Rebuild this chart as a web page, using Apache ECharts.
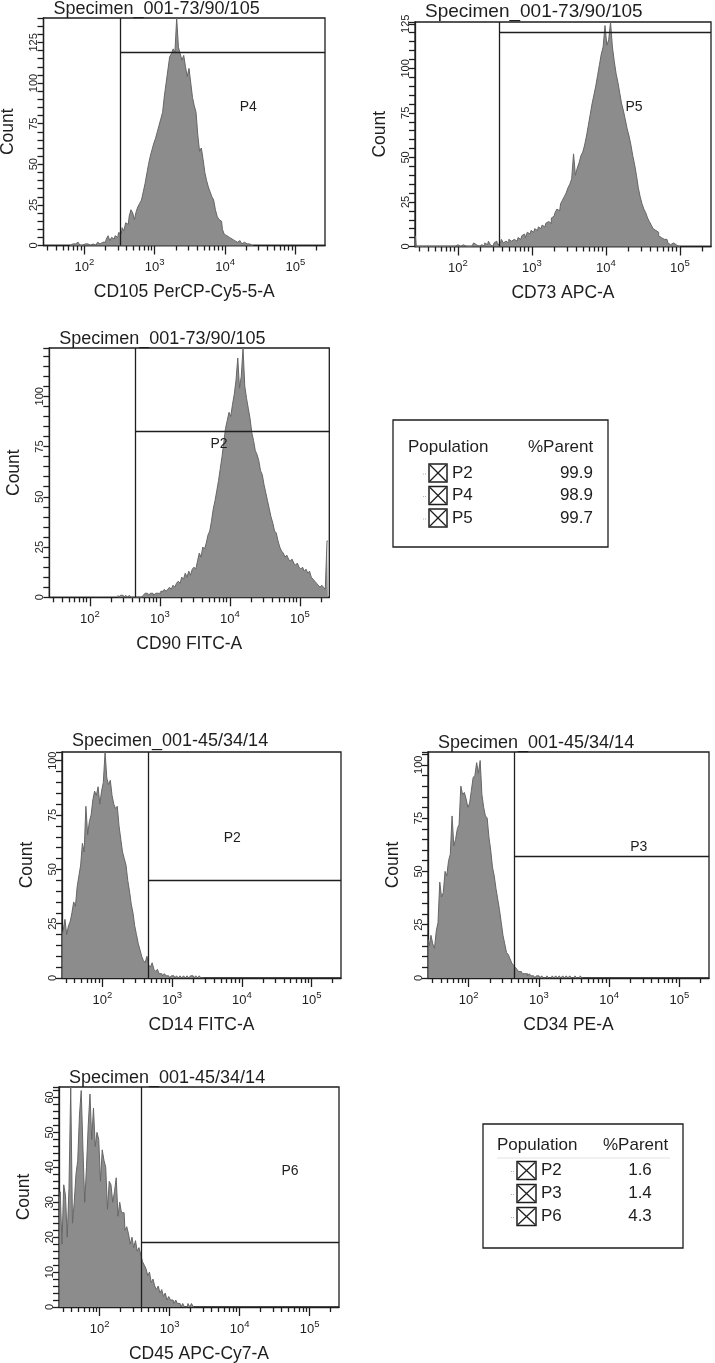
<!DOCTYPE html>
<html>
<head>
<meta charset="utf-8">
<script src="https://cdn.jsdelivr.net/npm/echarts@6/dist/echarts.min.js"></script>
<style>
html,body{margin:0;padding:0;background:#ffffff;}
#chart{width:715px;height:1363px;}
</style>
</head>
<body>
<div id="chart"></div>
<script>
// ---------------- DATA ----------------
const specimenTitles = [
  'Specimen_001-73/90/105', 'Specimen_001-73/90/105', 'Specimen_001-73/90/105',
  'Specimen_001-45/34/14', 'Specimen_001-45/34/14', 'Specimen_001-45/34/14'
];
const axisNames = ['CD105 PerCP-Cy5-5-A', 'CD73 APC-A', 'CD90 FITC-A', 'CD14 FITC-A', 'CD34 PE-A', 'CD45 APC-Cy7-A'];
const countAxisName = 'Count';
const decadeExponents = [2, 3, 4, 5];     // 10^2 .. 10^5 tick labels
const logMin = 1.42;                      // log10 of the axis minimum
const logMax = 5.42;                      // log10 of 262144
const binStep = 0.025;                    // histogram bin width in decades

const countMax = [140, 126, 124, 104, 106, 63];
const countTickStep = [5, 5, 5, 5, 5, 2];
const countLabelStep = [25, 25, 25, 25, 25, 10];

// histogram counts (bin centres = start + i * binStep, in log10 units)
const cd105Start = 1.800;
const cd105Counts = [
  0,1,0,1,2,1,0,0,1,0,
  1,0,1,1,0,1,2,1,2,3,
  2,4,6,3,5,4,6,5,8,7,
  11,9,14,13,18,22,20,16,21,24,
  26,28,33,38,44,50,55,59,63,66,
  70,74,78,82,92,100,108,116,118,121,
  119,140,122,118,114,117,110,104,109,100,
  91,86,82,68,58,60,53,45,40,36,
  33,30,28,22,18,16,15,10,7,6,
  5,5,4,3,3,2,3,2,1,2,
  1,0,1,0,0
];
const cd73Start = 1.425;
const cd73Counts = [
  6,0,0,0,0,0,0,0,0,0,
  0,0,0,0,0,0,0,0,0,0,
  0,0,0,1,0,1,1,0,1,0,
  0,1,2,1,0,0,1,0,2,1,
  3,1,0,2,3,1,2,4,2,3,
  2,4,3,4,5,3,5,4,6,7,
  5,8,7,9,8,10,9,11,10,12,
  11,13,14,13,16,17,19,21,20,24,
  26,28,30,33,35,38,52,40,44,47,
  51,53,57,62,68,74,80,85,90,96,
  102,108,112,124,113,116,126,112,104,97,
  92,86,80,76,71,66,62,57,51,46,
  40,33,28,24,21,19,16,14,12,10,
  9,8,6,5,4,3,4,2,1,2,
  1,1,0,0
];
const cd90Start = 2.400;
const cd90Counts = [
  1,0,1,1,0,1,0,1,0,0,
  0,0,0,0,0,1,2,2,1,2,
  2,1,2,2,2,3,3,4,3,4,
  5,4,6,5,7,8,7,10,9,12,
  10,13,11,14,15,14,18,22,20,25,
  24,27,31,33,38,44,48,53,58,64,
  70,77,84,88,92,90,96,101,108,119,
  104,110,124,105,99,94,89,82,78,73,
  71,68,63,61,56,52,48,44,40,37,
  33,32,28,25,23,22,20,21,19,18,
  19,17,16,17,15,14,15,13,14,12,
  13,10,9,8,7,6,5,6,5,4,
  28
];
const cd14Start = 1.425;
const cd14Counts = [
  20,22,27,20,24,26,30,35,33,42,
  47,52,62,58,79,66,72,75,82,86,
  84,88,80,86,90,104,92,89,91,84,
  80,78,79,70,64,58,55,52,45,40,
  34,30,24,20,16,13,10,8,7,10,
  6,5,7,4,3,4,2,2,1,2,
  1,1,0,1,1,0,1,0,1,0,
  1,0,1,0,1,1,0,1,0,1,
  0,0
];
const cd34Start = 1.425;
const cd34Counts = [
  18,15,20,16,14,22,26,45,38,40,
  50,48,55,58,76,62,65,70,72,90,
  86,87,84,80,82,88,94,95,101,96,
  102,86,80,76,75,66,60,52,48,42,
  37,32,26,20,16,12,11,9,7,6,
  5,4,3,3,2,2,2,1,2,1,
  1,0,1,1,0,1,0,0,1,0,
  0,1,0,1,0,1,0,1,0,1,
  0,1,0,0,1,0,0,1,0
];
const cd45Start = 1.425;
const cd45Counts = [
  30,33,18,35,32,20,34,63,24,30,
  38,42,55,62,45,30,40,52,61,48,
  57,46,50,48,36,45,42,40,28,36,
  35,30,33,37,26,30,27,27,22,23,
  21,18,20,17,19,16,17,15,13,12,
  11,9,10,7,8,6,5,6,4,5,
  3,4,2,3,2,2,1,2,1,1,
  0,1,0,0,1,0,1,0
];

// gates
const gateNames = ['P4', 'P5', 'P2', 'P2', 'P3', 'P6'];
const gateLowLog = [2.507, 2.565, 2.65, 2.66, 2.645, 2.60];
const gateMarkerCount = [119, 120, 82.4, 45.2, 57, 18.4];
const gateLabelLog = [4.33, 4.38, 3.845, 3.86, 4.42, 4.72];
const gateLabelCount = [85, 78, 76, 64.5, 61.5, 39];

// population tables
const tableHeaders = ['Population', '%Parent'];
const table1Pops = ['P2', 'P4', 'P5'];
const table1Vals = ['99.9', '98.9', '99.7'];
const table2Pops = ['P2', 'P3', 'P6'];
const table2Vals = ['1.6', '1.4', '4.3'];

// ---------------- LAYOUT / STYLE ----------------
const FONT = '"Liberation Sans", Arial, Helvetica, sans-serif';
const INK = '#1e1e1e';
const boxes = [
  {left: 43.5, top: 18,   width: 281.5, height: 227.5, titleTop: 0,    titleSize: 18},
  {left: 415,  top: 22,   width: 296,   height: 224.5, titleTop: 2,    titleSize: 19},
  {left: 49.3, top: 348,  width: 280,   height: 249.3, titleTop: 330,  titleSize: 18},
  {left: 62,   top: 752,  width: 279,   height: 226,   titleTop: 732,  titleSize: 18},
  {left: 428,  top: 752,  width: 281,   height: 226,   titleTop: 734,  titleSize: 18},
  {left: 59,   top: 1087, width: 280,   height: 220,   titleTop: 1069, titleSize: 18}
];
const starts = [cd105Start, cd73Start, cd90Start, cd14Start, cd34Start, cd45Start];
const countsList = [cd105Counts, cd73Counts, cd90Counts, cd14Counts, cd34Counts, cd45Counts];

// minor log ticks (2..9 x 10^d) inside the axis range
const minorTicks = [];
for (let d = 1; d <= 5; d++) {
  for (let k = 2; k <= 9; k++) {
    const v = d + Math.log10(k);
    if (v >= logMin && v <= logMax) minorTicks.push(v);
  }
}

const lineStyle = {color: INK, width: 1.3};
const grids = [], xAxes = [], yAxes = [], series = [], titles = [];

boxes.forEach((b, i) => {
  grids.push({
    left: b.left, top: b.top, width: b.width, height: b.height,
    show: true, borderColor: INK, borderWidth: 1.3, backgroundColor: '#ffffff',
    containLabel: false, outerBoundsMode: 'none'
  });
  titles.push({
    text: specimenTitles[i], left: b.left + 10, top: b.titleTop, padding: 0,
    textStyle: {fontSize: b.titleSize, fontWeight: 'normal', color: INK, fontFamily: FONT}
  });
  xAxes.push({
    gridIndex: i, type: 'value', min: logMin, max: logMax, position: 'bottom',
    axisLine: {show: true, onZero: false, lineStyle: lineStyle},
    axisTick: {show: true, customValues: minorTicks, length: 5, lineStyle: lineStyle},
    axisLabel: {show: false}, splitLine: {show: false},
    name: axisNames[i], nameLocation: 'middle', nameGap: 38, nameMoveOverlap: false,
    nameTextStyle: {fontSize: 17.5, color: INK, fontFamily: FONT}
  });
  xAxes.push({
    gridIndex: i, type: 'value', min: logMin, max: logMax, position: 'bottom', offset: 0,
    axisLine: {show: false, onZero: false},
    axisTick: {show: true, customValues: decadeExponents, length: 9, lineStyle: lineStyle},
    axisLabel: {
      show: true, customValues: decadeExponents, margin: 12,
      formatter: v => '{b|10}{s|' + Math.round(v) + '}',
      rich: {
        b: {fontSize: 13, fontFamily: FONT, color: INK},
        s: {fontSize: 9.5, fontFamily: FONT, color: INK, padding: [0, 0, 10, 0]}
      }
    },
    splitLine: {show: false}
  });
  yAxes.push({
    gridIndex: i, type: 'value', min: 0, max: countMax[i], interval: countTickStep[i],
    axisLine: {show: true, onZero: false, lineStyle: lineStyle},
    axisTick: {show: true, length: 6, lineStyle: lineStyle},
    axisLabel: {
      rotate: 90, margin: 4, fontSize: 11, color: INK, fontFamily: FONT,
      formatter: v => (Math.abs(v % countLabelStep[i]) < 1e-9 ? String(v) : '')
    },
    splitLine: {show: false},
    name: countAxisName, nameLocation: 'middle', nameGap: 26, nameMoveOverlap: false,
    nameTextStyle: {fontSize: 17.5, color: INK, fontFamily: FONT}
  });
  const counts = countsList[i];
  series.push({
    type: 'line', xAxisIndex: 2 * i, yAxisIndex: i, step: 'middle', symbol: 'none',
    silent: true, animation: false,
    data: counts.map((c, j) => [starts[i] + j * binStep, c]),
    lineStyle: {color: '#666666', width: 1},
    areaStyle: {color: '#8c8c8c', opacity: 1},
    markLine: {
      silent: true, animation: false, symbol: ['none', 'none'],
      label: {show: false}, lineStyle: {color: INK, width: 1.3, type: 'solid'},
      emphasis: {disabled: true},
      data: [
        {xAxis: gateLowLog[i]},
        [{coord: [gateLowLog[i], gateMarkerCount[i]]}, {coord: [logMax, gateMarkerCount[i]]}]
      ]
    },
    markPoint: {
      silent: true, animation: false, symbol: 'circle', symbolSize: 0,
      label: {show: true, position: 'inside', formatter: gateNames[i], color: INK, fontSize: 14, fontFamily: FONT},
      data: [{coord: [gateLabelLog[i], gateLabelCount[i]]}]
    }
  });
});

// population tables (graphic)
function tableGraphic(cfg, pops, vals) {
  const els = [];
  els.push({type: 'rect', shape: {x: cfg.x, y: cfg.y, width: cfg.w, height: cfg.h},
    style: {fill: '#ffffff', stroke: INK, lineWidth: 1.3}});
  els.push({type: 'text', x: cfg.popX, y: cfg.headY,
    style: {text: tableHeaders[0], fontSize: 17, fontFamily: FONT, fill: INK, align: 'left', verticalAlign: 'middle'}});
  els.push({type: 'text', x: cfg.parX, y: cfg.headY,
    style: {text: tableHeaders[1], fontSize: 17, fontFamily: FONT, fill: INK, align: 'left', verticalAlign: 'middle'}});
  if (cfg.rule) {
    els.push({type: 'line', shape: {x1: cfg.popX, y1: cfg.rule, x2: cfg.parX + 67, y2: cfg.rule},
      style: {stroke: '#e2e2e2', lineWidth: 1}});
  }
  pops.forEach((p, k) => {
    const cy = cfg.rowY + k * cfg.rowStep;
    const bx = cfg.boxX, by = cy - cfg.boxH / 2;
    els.push({type: 'line', shape: {x1: bx - 6, y1: cy + 1, x2: bx - 2, y2: cy + 1},
      style: {stroke: '#b0b0b0', lineWidth: 1, lineDash: [1, 1]}});
    els.push({type: 'rect', shape: {x: bx, y: by, width: cfg.boxW, height: cfg.boxH},
      style: {fill: '#ffffff', stroke: INK, lineWidth: 1.5}});
    els.push({type: 'line', shape: {x1: bx + 1, y1: by + 1, x2: bx + cfg.boxW - 1, y2: by + cfg.boxH - 1},
      style: {stroke: INK, lineWidth: 1.2}});
    els.push({type: 'line', shape: {x1: bx + cfg.boxW - 1, y1: by + 1, x2: bx + 1, y2: by + cfg.boxH - 1},
      style: {stroke: INK, lineWidth: 1.2}});
    els.push({type: 'text', x: cfg.nameX, y: cy,
      style: {text: p, fontSize: 17, fontFamily: FONT, fill: INK, align: 'left', verticalAlign: 'middle'}});
    els.push({type: 'text', x: cfg.valX, y: cy,
      style: {text: vals[k], fontSize: 17, fontFamily: FONT, fill: INK, align: cfg.valAlign, verticalAlign: 'middle'}});
  });
  return els;
}

const graphics = []
  .concat(tableGraphic({x: 393, y: 420, w: 215, h: 127, popX: 408, parX: 528, headY: 447,
    rowY: 473, rowStep: 22.5, boxX: 429, boxW: 18, boxH: 18, nameX: 452, valX: 593, valAlign: 'right'},
    table1Pops, table1Vals))
  .concat(tableGraphic({x: 483, y: 1124, w: 200, h: 124, popX: 497, parX: 603, headY: 1145, rule: 1158,
    rowY: 1170.5, rowStep: 23, boxX: 517, boxW: 19, boxH: 18, nameX: 541, valX: 640, valAlign: 'center'},
    table2Pops, table2Vals));

const chart = echarts.init(document.getElementById('chart'), null, {renderer: 'canvas', width: 715, height: 1363});
chart.setOption({
  animation: false,
  backgroundColor: '#ffffff',
  textStyle: {fontFamily: FONT},
  title: titles,
  grid: grids,
  xAxis: xAxes,
  yAxis: yAxes,
  series: series,
  graphic: {elements: graphics}
});
</script>
</body>
</html>
